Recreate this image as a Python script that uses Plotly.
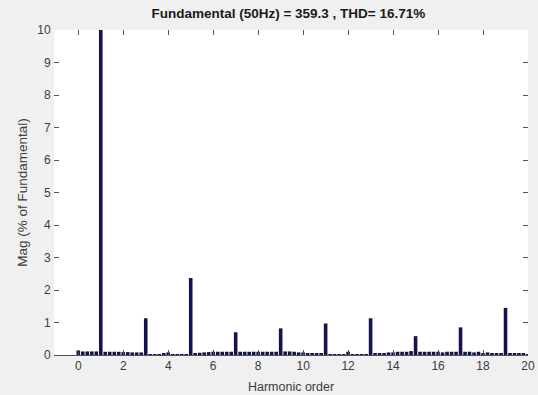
import plotly.graph_objects as go

# Harmonic order grid (10 Hz resolution, 50 Hz fundamental -> 0.2 steps)
orders = [round(i * 0.2, 1) for i in range(101)]

# Magnitude (% of fundamental)
mag = [
    0.14, 0.11, 0.11, 0.11, 0.11,          # 0.0 - 0.8
    100.0, 0.10, 0.10, 0.10, 0.10,         # 1.0 - 1.8
    0.09, 0.09, 0.08, 0.08, 0.08,          # 2.0 - 2.8
    1.13, 0.03, 0.03, 0.03, 0.04,          # 3.0 - 3.8
    0.08, 0.03, 0.03, 0.03, 0.03,          # 4.0 - 4.8
    2.37, 0.06, 0.07, 0.08, 0.09,          # 5.0 - 5.8
    0.10, 0.10, 0.10, 0.10, 0.10,          # 6.0 - 6.8
    0.70, 0.10, 0.10, 0.10, 0.10,          # 7.0 - 7.8
    0.10, 0.10, 0.10, 0.10, 0.10,          # 8.0 - 8.8
    0.82, 0.11, 0.11, 0.10, 0.08,          # 9.0 - 9.8
    0.08, 0.06, 0.06, 0.06, 0.06,          # 10.0 - 10.8
    0.97, 0.03, 0.03, 0.03, 0.03,          # 11.0 - 11.8
    0.10, 0.03, 0.03, 0.03, 0.03,          # 12.0 - 12.8
    1.13, 0.06, 0.06, 0.06, 0.08,          # 13.0 - 13.8
    0.08, 0.10, 0.10, 0.10, 0.12,          # 14.0 - 14.8
    0.58, 0.10, 0.10, 0.10, 0.10,          # 15.0 - 15.8
    0.10, 0.08, 0.10, 0.10, 0.10,          # 16.0 - 16.8
    0.85, 0.10, 0.10, 0.08, 0.10,          # 17.0 - 17.8
    0.06, 0.08, 0.06, 0.06, 0.06,          # 18.0 - 18.8
    1.45, 0.05, 0.05, 0.04, 0.04,          # 19.0 - 19.8
    0.03,                                  # 20.0
]

x_ticks = [0, 2, 4, 6, 8, 10, 12, 14, 16, 18, 20]
y_ticks = [0, 1, 2, 3, 4, 5, 6, 7, 8, 9, 10]

title_text = "Fundamental (50Hz) = 359.3 , THD= 16.71%"

fig = go.Figure()
fig.add_trace(go.Bar(
    x=orders, y=mag,
    marker=dict(color="#13134f", line=dict(width=0)),
    width=0.16,
))

tick_font = dict(family="Liberation Sans, Arial, sans-serif", size=12, color="#3c3c3c")
xtitle_font = dict(family="Liberation Sans, Arial, sans-serif", size=12.5, color="#3c3c3c")
ytitle_font = dict(family="Liberation Sans, Arial, sans-serif", size=13.5, color="#3c3c3c")

fig.update_layout(
    width=538, height=395,
    margin=dict(l=54, r=10, t=30, b=40, autoexpand=False),
    paper_bgcolor="#f0f0f0",
    plot_bgcolor="#ffffff",
    showlegend=False,
    title=dict(
        text="<b>" + title_text + "</b>",
        x=266 / 538, xanchor="center", xref="paper",
        y=1 - 13 / 395, yanchor="middle", yref="container",
        font=dict(family="Liberation Sans, Arial, sans-serif", size=13.5, color="#1a1a1a"),
    ),
    xaxis=dict(
        range=[-1.08, 20],
        automargin=False,
        tickmode="array", tickvals=x_ticks,
        ticks="inside", ticklen=5, tickcolor="#555555", tickwidth=1,
        showline=True, linecolor="rgba(0,0,0,0)", mirror="ticks",
        showgrid=False, zeroline=False,
        tickfont=tick_font,
        title=dict(text="Harmonic order", font=xtitle_font, standoff=9),
    ),
    yaxis=dict(
        range=[0, 10],
        automargin=False,
        tickmode="array", tickvals=y_ticks,
        ticks="inside", ticklen=5, tickcolor="#555555", tickwidth=1,
        showline=True, linecolor="rgba(0,0,0,0)", mirror="ticks",
        showgrid=False, zeroline=True, zerolinecolor="#555555", zerolinewidth=1,
        tickfont=tick_font,
        title=dict(text="Mag (% of Fundamental)", font=ytitle_font, standoff=6),
    ),
)

fig.write_html("out.html")
